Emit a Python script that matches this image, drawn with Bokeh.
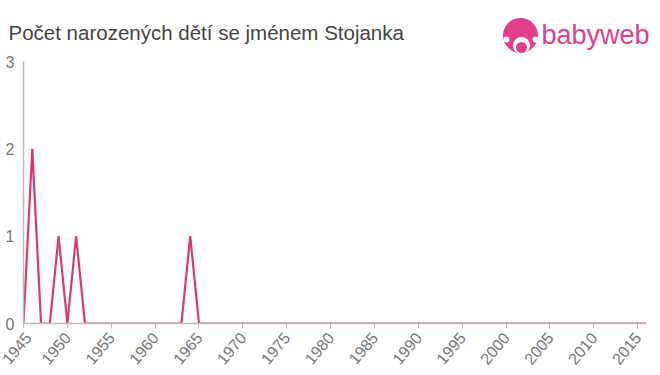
import numpy as np
from bokeh.plotting import figure
from bokeh.models import Range1d, FixedTicker
from bokeh.layouts import column
from bokeh.core.properties import value
from bokeh.embed import file_html
from bokeh.resources import INLINE
from math import pi

years = list(range(1945, 2017))
counts_nonzero = {1946: 2, 1949: 1, 1951: 1, 1964: 1}
counts = [counts_nonzero.get(y, 0) for y in years]
x_ticks = list(range(1945, 2016, 5))
y_ticks = [0, 1, 2, 3]
title_text = "Počet narozených dětí se jménem Stojanka"
logo_text = "babyweb"

W, H = 660, 375
HEAD_H = 53
font = "Liberation Sans"
logo_pink = "#e0408a"

# ---- header (title + logo), pixel coordinates, y downwards
head = figure(width=W, height=HEAD_H, output_backend="svg", toolbar_location=None,
              x_range=Range1d(0, W), y_range=Range1d(HEAD_H, 0),
              x_axis_location=None, y_axis_location=None,
              min_border=0, min_border_left=0, min_border_right=0,
              min_border_top=0, min_border_bottom=0)
head.frame_align = False
head.grid.visible = False
head.outline_line_color = None
head.border_fill_color = "white"
head.background_fill_color = "white"
head.text(x=[8], y=[32], text=[title_text], text_font=value(font),
          text_font_size="20.5px", text_color="#444444", text_baseline="middle")
head.scatter(x=[520], y=[35], size=35, marker="circle", fill_color=logo_pink, line_color=None)
head.scatter(x=[506], y=[39], size=6, marker="circle", fill_color="white", line_color=None)
head.scatter(x=[535], y=[39], size=6, marker="circle", fill_color="white", line_color=None)
head.scatter(x=[521], y=[45], size=17, marker="circle", fill_color="white", line_color=None)
head.scatter(x=[521], y=[47], size=11, marker="circle", fill_color=logo_pink, line_color=None)
head.text(x=[541], y=[34], text=[logo_text], text_font=value(font),
          text_font_size="27px", text_color=logo_pink, text_baseline="middle")

# ---- main chart
FL, FB = 23, 323
p = figure(width=W, height=H - HEAD_H, output_backend="svg", toolbar_location=None,
           x_range=Range1d(1945, 2016), y_range=Range1d(0, 3),
           min_border_left=FL, min_border_right=14, min_border_top=61 - HEAD_H,
           min_border_bottom=H - FB)
p.frame_align = False
p.outline_line_color = None
p.background_fill_color = "white"
p.border_fill_color = "white"
p.xgrid.visible = False
p.ygrid.visible = False

p.line(years, counts, line_color="#d93a6d", line_width=2.2)

p.xaxis.ticker = FixedTicker(ticks=x_ticks)
p.yaxis.ticker = FixedTicker(ticks=y_ticks)
p.xaxis.major_label_orientation = 50 * pi / 180
for ax in (p.xaxis, p.yaxis):
    ax.axis_line_color = "#bbbbbb"
    ax.axis_line_width = 1.5
    ax.major_tick_line_color = "#bbbbbb"
    ax.minor_tick_line_color = None
    ax.major_label_text_color = "#777777"
    ax.major_label_text_font = font
    ax.major_label_text_font_size = "16px"
p.xaxis.major_tick_out = 5
p.xaxis.major_tick_in = 0
p.yaxis.major_tick_out = 0
p.yaxis.major_tick_in = 0
p.yaxis.major_label_standoff = 9
p.xaxis.major_label_standoff = 6

layout = column(head, p, spacing=0)
open("out.html", "w").write(file_html(layout, INLINE))
